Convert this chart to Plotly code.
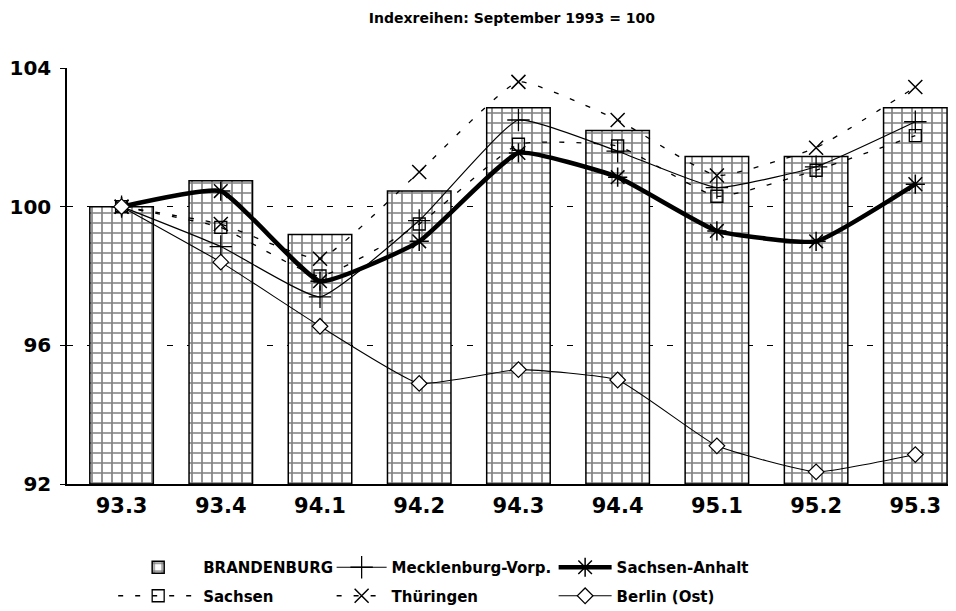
import plotly.graph_objects as go

quarters = ["93.3", "93.4", "94.1", "94.2", "94.3", "94.4", "95.1", "95.2", "95.3"]
brandenburg = [100.0, 100.75, 99.2, 100.45, 102.85, 102.2, 101.45, 101.45, 102.85]
mecklenburg = [100.0, 98.85, 97.4, 99.6, 102.5, 101.6, 100.55, 101.15, 102.45]
sachsen_anhalt = [100.0, 100.45, 97.85, 99.0, 101.55, 100.85, 99.3, 99.0, 100.65]
sachsen = [100.0, 99.4, 98.0, 99.5, 101.8, 101.75, 100.3, 101.05, 102.05]
thueringen = [100.0, 99.5, 98.5, 101.0, 103.6, 102.5, 100.9, 101.7, 103.45]
berlin_ost = [100.0, 98.4, 96.55, 94.9, 95.3, 95.0, 93.1, 92.35, 92.85]
y_ticks = [92, 96, 100, 104]

FONT = "DejaVu Sans"
fig = go.Figure()

fig.add_trace(go.Bar(
    x=quarters, y=[v - 92 for v in brandenburg], base=92, name="BRANDENBURG",
    width=0.64, legend="legend", legendgroup="a",
    marker=dict(color="white", line=dict(color="black", width=1.5),
                pattern=dict(shape="+", size=10, solidity=0.3, fgcolor="black", bgcolor="white")),
))
fig.add_trace(go.Scatter(
    x=quarters, y=sachsen, name="Sachsen", mode="lines+markers",
    legend="legend", legendgroup="b",
    line=dict(color="black", width=1.3, dash="5px,12px", shape="spline", smoothing=0.4),
    marker=dict(symbol="square-open", size=12, color="black", line=dict(color="black", width=1.3)),
))
fig.add_trace(go.Scatter(
    x=quarters, y=mecklenburg, name="Mecklenburg-Vorp.", mode="lines+markers",
    legend="legend2", legendgroup="c",
    line=dict(color="black", width=1.2, shape="spline", smoothing=0.4),
    marker=dict(symbol="cross-thin-open", size=16, color="black", line=dict(color="black", width=1.3)),
))
fig.add_trace(go.Scatter(
    x=quarters, y=thueringen, name="Thüringen", mode="lines+markers",
    legend="legend2", legendgroup="d",
    line=dict(color="black", width=1.3, dash="5px,12px", shape="spline", smoothing=0.4),
    marker=dict(symbol="x-thin-open", size=14, color="black", line=dict(color="black", width=1.5)),
))
fig.add_trace(go.Scatter(
    x=quarters, y=sachsen_anhalt, name="Sachsen-Anhalt", mode="lines+markers",
    legend="legend3", legendgroup="e",
    line=dict(color="black", width=4.5, shape="spline", smoothing=0.4),
    marker=dict(symbol="asterisk-open", size=16, color="black", line=dict(color="black", width=1.5)),
))
fig.add_trace(go.Scatter(
    x=quarters, y=berlin_ost, name="Berlin (Ost)", mode="lines+markers",
    legend="legend3", legendgroup="f",
    line=dict(color="black", width=1.1, shape="spline", smoothing=0.4),
    marker=dict(symbol="diamond", size=12, color="white", line=dict(color="black", width=1.2)),
))

leg_common = dict(orientation="v", yref="container", y=0.0995, yanchor="top", tracegroupgap=6,
                  traceorder="grouped", bgcolor="rgba(0,0,0,0)",
                  font=dict(family=FONT, size=15, weight="bold", color="black"))

fig.update_layout(
    width=948, height=603,
    margin=dict(l=57, r=1, t=60, b=127),
    paper_bgcolor="white", plot_bgcolor="white",
    font=dict(family=FONT, color="black"),
    title=dict(text="<b>Indexreihen: September 1993 = 100</b>", x=0.5316, xanchor="center",
               y=0.984, yanchor="middle", font=dict(family=FONT, size=14, color="black")),
    showlegend=True,
    legend=dict(x=0.052, xanchor="left", itemwidth=80, **leg_common),
    legend2=dict(x=0.298, xanchor="left", itemwidth=50, **leg_common),
    legend3=dict(x=0.548, xanchor="left", itemwidth=53, **leg_common),
    xaxis=dict(type="category", range=[-0.55, 8.4], showgrid=False, showline=True,
               linecolor="black", linewidth=1.5, ticks="", zeroline=False,
               tickfont=dict(family=FONT, size=21, weight="bold"), ticklabelstandoff=2),
    yaxis=dict(range=[92, 104], tickvals=y_ticks, showgrid=True, gridcolor="black",
               griddash="6px,14px", gridwidth=1, showline=True, linecolor="black",
               linewidth=1.5, ticks="outside", ticklen=5, tickcolor="black",
               tickfont=dict(family=FONT, size=20, weight="bold"), zeroline=False,
               ticklabelstandoff=5),
)

fig.write_html("out.html")
